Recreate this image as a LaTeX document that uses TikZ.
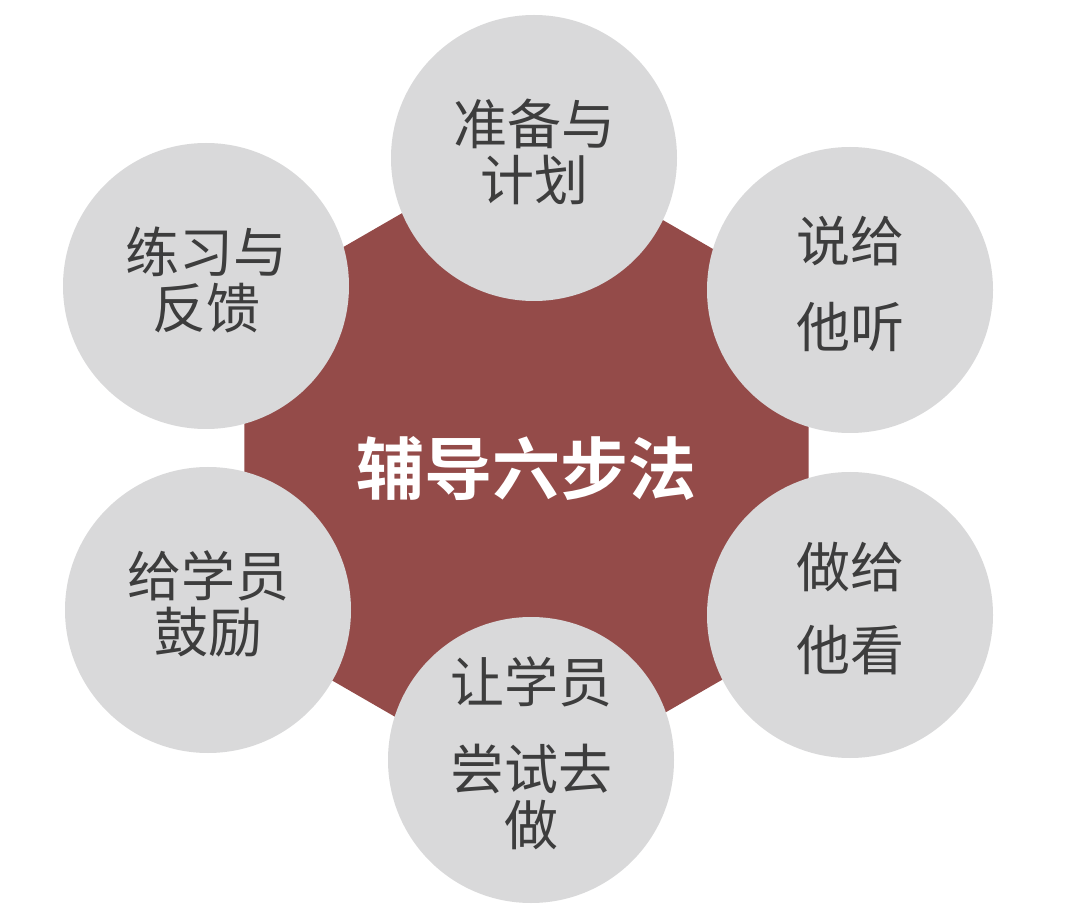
\documentclass[tikz,border=0pt]{standalone}
\usepackage{fontspec}
\newfontfamily\cjk[BoldFont={Noto Sans CJK SC Bold}]{Noto Sans CJK SC}
\definecolor{hubred}{HTML}{944B49}
\definecolor{petalgray}{HTML}{D9D9DA}
\definecolor{inkgray}{HTML}{3D3D3D}
\begin{document}
\begin{tikzpicture}[x=1pt,y=-1pt,
  petal/.style={circle, fill=petalgray, minimum size=286pt, inner sep=0pt,
    font=\cjk\fontsize{54}{56}\selectfont, text=inkgray, align=center, text depth=17pt},
  hubtext/.style={font=\cjk\bfseries\fontsize{68}{70}\selectfont, text=white}]
\useasboundingbox (0,0) rectangle (1080,909);
\fill[white] (0,0) rectangle (1080,909);
\begin{scope}[shift={(526.5,467)}]
\fill[hubred] (15:292) -- (45:292) -- (75:292) -- (105:292) -- (135:292) -- (165:292)
  -- (195:292) -- (225:292) -- (255:292) -- (285:292) -- (315:292) -- (345:292) -- cycle;
\end{scope}
\node[hubtext] (hub) at (526.5,468) {辅导六步法};
\node[petal] (p1) at (534,158) {准备与\\计划};
\node[petal] (p2) at (850,290) {说给\\[30pt]他听};
\node[petal] (p3) at (850,615) {做给\\[27pt]他看};
\node[petal] (p4) at (531,760) {让学员\\[31pt]尝试去\\做};
\node[petal] (p5) at (208,610) {给学员\\鼓励};
\node[petal] (p6) at (206,286) {练习与\\反馈};
\end{tikzpicture}
\end{document}
